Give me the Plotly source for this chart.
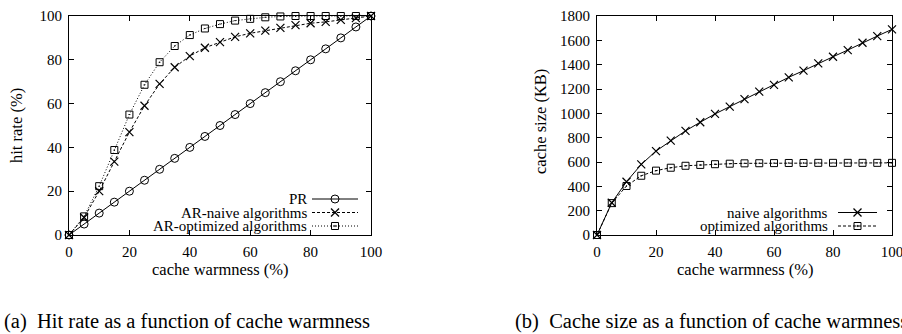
import plotly.graph_objects as go

# ---------------- data ----------------
warmness = [0, 5, 10, 15, 20, 25, 30, 35, 40, 45, 50, 55, 60, 65, 70, 75, 80, 85, 90, 95, 100]

hit_pr = [0, 5, 10, 15, 20, 25, 30, 35, 40, 45, 50, 55, 60, 65, 70, 75, 80, 85, 90, 95, 100]
hit_ar_naive = [0, 8, 20, 33.5, 47, 59, 69, 76.6, 81.7, 85.5, 88.1, 90.5, 92.1, 93.3, 94.6, 95.8,
                96.7, 97.3, 98.2, 99, 100]
hit_ar_opt = [0, 8.5, 22.3, 38.8, 55, 68.6, 78.9, 86.3, 91.3, 94.3, 96.3, 97.9, 98.7, 99.4, 99.8,
              100, 100, 100, 100, 100, 100]

size_naive = [0, 265, 438, 580, 690, 776, 856, 927, 995, 1055, 1117, 1178, 1234, 1296, 1351,
              1410, 1465, 1520, 1580, 1635, 1690]
size_opt = [0, 262, 403, 487, 529, 553, 569, 576, 582, 586, 589, 590, 591, 592, 592, 593, 593,
            593, 593, 593, 593]

x_ticks = [0, 20, 40, 60, 80, 100]
hit_ticks = [0, 20, 40, 60, 80, 100]
size_ticks = [0, 200, 400, 600, 800, 1000, 1200, 1400, 1600, 1800]

# ---------------- layout helpers ----------------
W, H = 902, 334
FONT = "Liberation Serif"


def px(x):
    return x / W


def py(y):
    return 1 - y / H


fig = go.Figure()

line_w = 1
mk_line = dict(color="black", width=1)

# left chart
fig.add_trace(go.Scatter(x=warmness, y=hit_pr, mode="lines+markers", xaxis="x", yaxis="y",
                         line=dict(color="black", width=line_w),
                         marker=dict(symbol="circle-open", size=8, color="black", line=mk_line),
                         cliponaxis=False, showlegend=False, name="PR"))
fig.add_trace(go.Scatter(x=warmness, y=hit_ar_naive, mode="lines+markers", xaxis="x", yaxis="y",
                         line=dict(color="black", width=line_w, dash="3px,2px"),
                         marker=dict(symbol="x-thin-open", size=8, color="black", line=dict(color="black", width=1.2)),
                         cliponaxis=False, showlegend=False, name="AR-naive algorithms"))
fig.add_trace(go.Scatter(x=warmness, y=hit_ar_opt, mode="lines+markers", xaxis="x", yaxis="y",
                         line=dict(color="black", width=line_w, dash="1px,2px"),
                         marker=dict(symbol="square-open-dot", size=7, color="black", line=mk_line),
                         cliponaxis=False, showlegend=False, name="AR-optimized algorithms"))

# right chart
fig.add_trace(go.Scatter(x=warmness, y=size_naive, mode="lines+markers", xaxis="x2", yaxis="y2",
                         line=dict(color="black", width=line_w),
                         marker=dict(symbol="x-thin-open", size=8, color="black", line=dict(color="black", width=1.2)),
                         cliponaxis=False, showlegend=False, name="naive algorithms"))
fig.add_trace(go.Scatter(x=warmness, y=size_opt, mode="lines+markers", xaxis="x2", yaxis="y2",
                         line=dict(color="black", width=line_w, dash="3px,2px"),
                         marker=dict(symbol="square-open-dot", size=7, color="black", line=mk_line),
                         cliponaxis=False, showlegend=False, name="optimized algorithms"))

tickfont = dict(family=FONT, size=15, color="black")
axis_common = dict(showline=True, linecolor="black", linewidth=1, mirror="allticks",
                   ticks="inside", ticklen=5, tickcolor="black", tickwidth=1,
                   showgrid=False, zeroline=False, tickfont=tickfont, automargin=False,
                   ticklabelstandoff=3, ticklabeloverflow="allow")

fig.update_layout(
    width=W, height=H, margin=dict(l=0, r=0, t=0, b=0),
    paper_bgcolor="white", plot_bgcolor="white",
    xaxis=dict(domain=[px(69), px(371)], range=[0, 100], tickvals=x_ticks, anchor="y", **axis_common),
    yaxis=dict(domain=[py(235), py(16)], range=[0, 100], tickvals=hit_ticks, anchor="x", **axis_common),
    xaxis2=dict(domain=[px(597), px(892)], range=[0, 100], tickvals=x_ticks, anchor="y2", **axis_common),
    yaxis2=dict(domain=[py(235), py(16)], range=[0, 1800], tickvals=size_ticks, anchor="x2", **axis_common),
)

annotations = []
shapes = []
title_font = dict(family=FONT, size=16.5, color="black")

# axis titles
annotations.append(dict(text="cache warmness (%)", x=px(220), y=py(269), xref="paper", yref="paper",
                        showarrow=False, font=title_font, xanchor="center", yanchor="middle"))
annotations.append(dict(text="cache warmness (%)", x=px(745), y=py(269), xref="paper", yref="paper",
                        showarrow=False, font=title_font, xanchor="center", yanchor="middle"))
annotations.append(dict(text="hit rate (%)", x=px(17), y=py(126), xref="paper", yref="paper",
                        showarrow=False, font=title_font, textangle=-90, xanchor="center", yanchor="middle"))
annotations.append(dict(text="cache size (KB)", x=px(540), y=py(122), xref="paper", yref="paper",
                        showarrow=False, font=title_font, textangle=-90, xanchor="center", yanchor="middle"))

# captions
cap_font = dict(family=FONT, size=20.5, color="black")
annotations.append(dict(text="(a)  Hit rate as a function of cache warmness", x=px(2), y=py(321),
                        xref="paper", yref="paper", showarrow=False, font=cap_font,
                        xanchor="left", yanchor="middle"))
annotations.append(dict(text="(b)  Cache size as a function of cache warmness", x=px(513), y=py(321),
                        xref="paper", yref="paper", showarrow=False, font=cap_font,
                        xanchor="left", yanchor="middle"))

# manual legends (gnuplot style: text, then sample)
leg_font = dict(family=FONT, size=15, color="black")


def legend_entry(label, text_right, y, x0, x1, dash, symbol):
    annotations.append(dict(text=label, x=px(text_right), y=py(y), xref="paper", yref="paper",
                            showarrow=False, font=leg_font, xanchor="right", yanchor="middle"))
    shapes.append(dict(type="line", xref="paper", yref="paper", x0=px(x0), x1=px(x1),
                       y0=py(y), y1=py(y), line=dict(color="black", width=1, dash=dash)))
    cx = (x0 + x1) / 2
    r = 4
    if symbol == "circle":
        shapes.append(dict(type="circle", xref="paper", yref="paper", x0=px(cx - r), x1=px(cx + r),
                           y0=py(y - r), y1=py(y + r), line=dict(color="black", width=1)))
    elif symbol == "square":
        r = 3.5
        shapes.append(dict(type="rect", xref="paper", yref="paper", x0=px(cx - r), x1=px(cx + r),
                           y0=py(y - r), y1=py(y + r), line=dict(color="black", width=1)))
        shapes.append(dict(type="rect", xref="paper", yref="paper", x0=px(cx - 0.6), x1=px(cx + 0.6),
                           y0=py(y - 0.6), y1=py(y + 0.6), line=dict(color="black", width=0.5),
                           fillcolor="black"))
    elif symbol == "x":
        shapes.append(dict(type="line", xref="paper", yref="paper", x0=px(cx - r), x1=px(cx + r),
                           y0=py(y - r), y1=py(y + r), line=dict(color="black", width=1.2)))
        shapes.append(dict(type="line", xref="paper", yref="paper", x0=px(cx - r), x1=px(cx + r),
                           y0=py(y + r), y1=py(y - r), line=dict(color="black", width=1.2)))


legend_entry("PR", 309, 199, 312, 358, "solid", "circle")
legend_entry("AR-naive algorithms", 309, 212.5, 312, 358, "3px,2px", "x")
legend_entry("AR-optimized algorithms", 309, 226, 312, 358, "1px,2px", "square")

legend_entry("naive algorithms", 830, 212.5, 838, 877, "solid", "x")
legend_entry("optimized algorithms", 830, 226, 838, 877, "3px,2px", "square")

fig.update_layout(annotations=annotations, shapes=shapes)

fig.write_html("out.html", config={"displayModeBar": False},
               post_script="document.body.style.margin='0';document.body.style.padding='0';")
